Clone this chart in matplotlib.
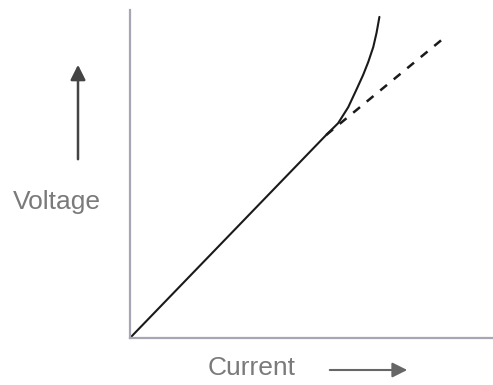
import matplotlib
matplotlib.use("Agg")
import matplotlib.pyplot as plt

# Data (arbitrary units)
current_solid = [0.0, 5.42, 5.75, 6.03, 6.25, 6.44, 6.58, 6.72, 6.81, 6.89]
voltage_solid = [0.0, 6.19, 6.55, 7.04, 7.56, 8.02, 8.41, 8.87, 9.30, 9.79]
current_dashed = [5.42, 8.61]
voltage_dashed = [6.19, 9.09]
x_label = "Current"
y_label = "Voltage"

W, H = 493, 385
fig = plt.figure(figsize=(W / 100, H / 100), dpi=100)
fig.patch.set_facecolor("white")

def fx(px):
    return px / W

def fy(py):
    return 1 - py / H

ax = fig.add_axes([fx(130), fy(338), (492 - 130) / W, (338 - 10) / H])
ax.set_xlim(0, 10)
ax.set_ylim(0, 10)
ax.plot(current_solid, voltage_solid, color="#1a1a1a", lw=1.5,
        solid_capstyle="round", solid_joinstyle="round", clip_on=False)
ax.plot(current_dashed, voltage_dashed, color="#1a1a1a", lw=1.8,
        linestyle=(0, (3.5, 3.5)), clip_on=False)

for s in ["top", "right"]:
    ax.spines[s].set_visible(False)
for s in ["left", "bottom"]:
    ax.spines[s].set_color("#a6a6b4")
    ax.spines[s].set_linewidth(1.6)
ax.set_xticks([])
ax.set_yticks([])

fam = ["Liberation Sans", "DejaVu Sans"]
fig.text(fx(57), fy(202), y_label, ha="center", va="center", fontsize=19,
         color="#7a7a7a", family=fam)
fig.text(fx(252), fy(368), x_label, ha="center", va="center", fontsize=19,
         color="#7a7a7a", family=fam)

fig.add_artist(matplotlib.patches.FancyArrowPatch(
    (fx(78), fy(162)), (fx(78), fy(62)), transform=fig.transFigure,
    arrowstyle="-|>,head_length=6,head_width=3", color="#444444", lw=1.8,
    mutation_scale=1.5))
fig.add_artist(matplotlib.patches.FancyArrowPatch(
    (fx(327), fy(370)), (fx(410), fy(370)), transform=fig.transFigure,
    arrowstyle="-|>,head_length=6,head_width=3", color="#666666", lw=1.5,
    mutation_scale=1.5))

fig.savefig("out.png", dpi=100, facecolor="white")
